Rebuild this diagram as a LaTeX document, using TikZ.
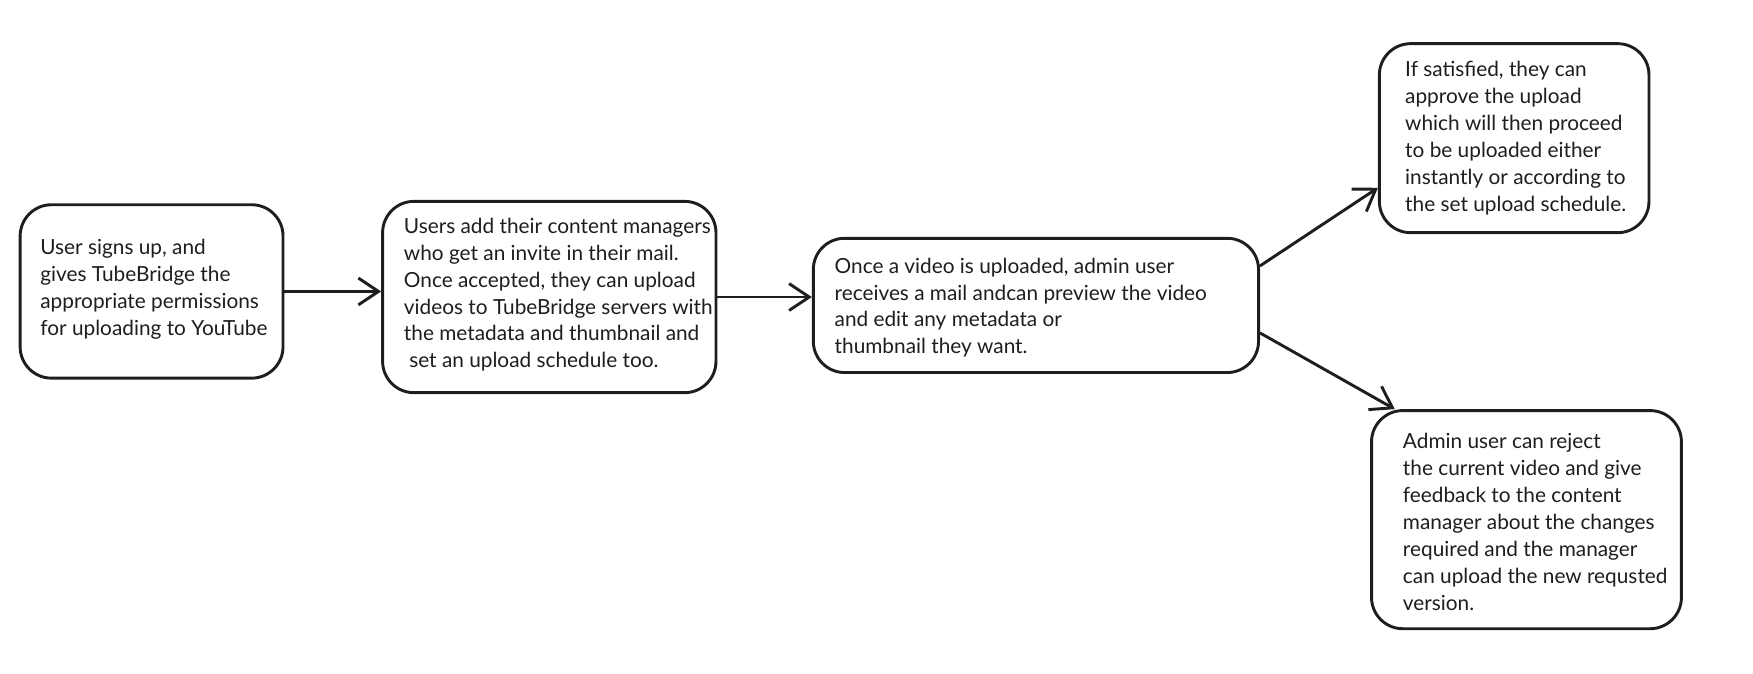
\documentclass[tikz,border=0pt]{standalone}
\usepackage{fontspec}
\setmainfont{Lato}
\usetikzlibrary{arrows.meta,calc}
\definecolor{ink}{HTML}{1E1E1E}
\tikzset{
  box/.style={draw=ink, line width=1.3pt, rounded corners=14pt, fill=white, inner sep=0pt},
  txt/.style={align=left, inner sep=0pt, text=ink, font=\fontsize{9.3pt}{12pt}\selectfont, anchor=west},
  conn/.style={draw=ink, line width=1.3pt, -{Straight Barb[length=9pt,width=12pt]}}
}
\begin{document}
\begin{tikzpicture}[x=0.5pt,y=-0.5pt]
\useasboundingbox (0,0) rectangle (1567,602);
\node[box, minimum width=117.5pt, minimum height=77.5pt] (b1) at (135.5,260.5) {};
\node[box, minimum width=149pt, minimum height=85.5pt] (b2) at (491,265.5) {};
\node[box, minimum width=199pt, minimum height=60pt] (b3) at (926,273) {};
\node[box, minimum width=120.5pt, minimum height=84.5pt] (b4) at (1353.5,123.5) {};
\node[box, minimum width=138.5pt, minimum height=97.5pt] (b5) at (1364.5,464.5) {};

\node[txt] (t1) at ([xshift=9.5pt,yshift=1pt]b1.west) {User signs up, and\\gives TubeBridge the\\appropriate permissions\\for uploading to YouTube};
\node[txt] (t2) at ([xshift=10pt,yshift=1pt]b2.west) {Users add their content managers\\who get an invite in their mail.\\Once accepted, they can upload\\videos to TubeBridge servers with\\the metadata and thumbnail and\\\ set an upload schedule too.};
\node[txt] (t3) at ([xshift=10pt,yshift=-1pt]b3.west) {Once a video is uploaded, admin user\\receives a mail andcan preview the video\\and edit any metadata or\\thumbnail they want.};
\node[txt] (t4) at ([xshift=12pt]b4.west) {If satisfied, they can\\approve the upload\\which will then proceed\\to be uploaded either\\instantly or according to\\the set upload schedule.};
\node[txt] (t5) at ([xshift=14.5pt,yshift=-1pt]b5.west) {Admin user can reject\\the current video and give\\feedback to the content\\manager about the changes\\required and the manager\\can upload the new requsted\\version.};

\draw[conn] (b1.east) -- (b2.west |- b1.east);
\draw[conn] (b2.east) -- (b3.west |- b2.east);
\draw[conn] (b3.10) -- (b4.200);
\draw[conn] (b3.-7) -- (b5.140.6);
\end{tikzpicture}
\end{document}
